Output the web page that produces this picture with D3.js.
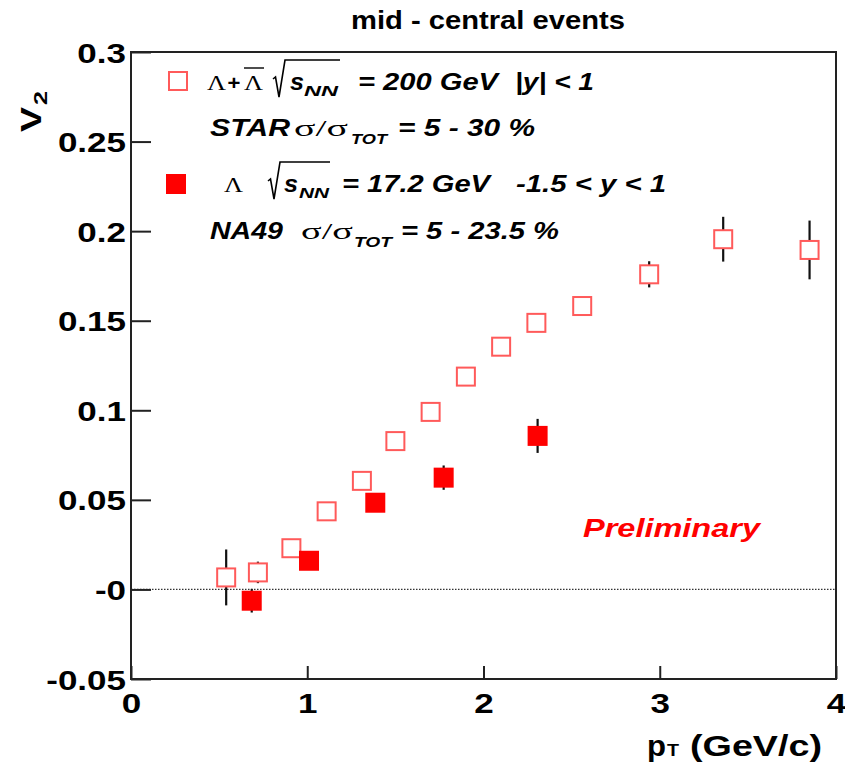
<!DOCTYPE html>
<html>
<head>
<meta charset="utf-8">
<script src="https://cdn.jsdelivr.net/npm/d3@7"></script>
<style>
  body { margin: 0; background: #fff; }
  svg { display: block; }
</style>
</head>
<body>
<script>
// Lambda elliptic flow v2 vs pT, mid-central events
const starPt  = [0.54, 0.72, 0.91, 1.11, 1.31, 1.50, 1.70, 1.90, 2.10, 2.30, 2.56, 2.94, 3.36, 3.85];
const starV2  = [0.0067, 0.0095, 0.0230, 0.0436, 0.0606, 0.0828, 0.0991, 0.1188, 0.1355, 0.1488, 0.1582, 0.1759, 0.1955, 0.1895];
const starErr = [0.0156, 0.0060, 0.0040, 0.0035, 0.0035, 0.0035, 0.0035, 0.0040, 0.0040, 0.0045, 0.0045, 0.0073, 0.0125, 0.0164];

const na49Pt  = [0.685, 1.01, 1.386, 1.774, 2.307];
const na49V2  = [-0.0063, 0.0160, 0.0484, 0.0624, 0.0857];
const na49Err = [0.0066, 0.0050, 0.0050, 0.0068, 0.0095];

const xTicks = [0, 1, 2, 3, 4];
const xTickLabels = ["0", "1", "2", "3", "4"];
const yTicks = [-0.05, 0, 0.05, 0.1, 0.15, 0.2, 0.25, 0.3];
const yTickLabels = ["-0.05", "-0", "0.05", "0.1", "0.15", "0.2", "0.25", "0.3"];

const W = 845, H = 764;
const plot = { left: 131, right: 836, top: 52, bottom: 679 };
const SANS = "'Liberation Sans', Arial, Helvetica, sans-serif";
const SERIF = "'Liberation Serif', 'Times New Roman', serif";
const SX = 1.25;      // horizontal widening of the ROOT-style lettering
const BOX = 20;       // marker size in px

const x = d3.scaleLinear().domain([0, 4]).range([plot.left, plot.right]);
const y = d3.scaleLinear().domain([-0.05, 0.3]).range([plot.bottom, plot.top]);

const svg = d3.select("body").append("svg")
  .attr("width", W).attr("height", H)
  .attr("viewBox", `0 0 ${W} ${H}`);

function widen(sel, sx) {
  sel.each(function () {
    const w = this.getComputedTextLength();
    this.setAttribute("textLength", w * sx);
    this.setAttribute("lengthAdjust", "spacingAndGlyphs");
  });
}

// Text piece with fixed start and width
function piece(g, o) {
  const t = g.append("text")
    .attr("x", o.x).attr("y", o.y)
    .attr("font-family", o.family || SANS)
    .attr("font-size", o.size)
    .attr("font-weight", o.weight || "bold")
    .attr("font-style", o.style || "italic")
    .attr("fill", o.fill || "#000")
    .text(o.text);
  if (o.w) t.attr("textLength", o.w).attr("lengthAdjust", "spacingAndGlyphs");
  return t;
}

// zero reference line
svg.append("line")
  .attr("x1", plot.left).attr("x2", plot.right)
  .attr("y1", y(0)).attr("y2", y(0))
  .attr("stroke", "#333").attr("stroke-width", 1.2)
  .attr("stroke-dasharray", "1.5,1.5");

// Axes (ticks point inward)
const yAxis = d3.axisLeft(y).tickValues(yTicks).tickSize(-20).tickPadding(5)
  .tickFormat((d, i) => yTickLabels[i]);
const gy = svg.append("g").attr("transform", `translate(${plot.left},0)`).call(yAxis);
gy.select(".domain").remove();
gy.selectAll(".tick line").attr("stroke", "#222").attr("stroke-width", 2);
gy.selectAll(".tick text")
  .attr("font-family", SANS).attr("font-size", 28).attr("font-weight", "bold")
  .attr("fill", "#000").attr("dy", "0.36em")
  .call(widen, SX);

const xAxis = d3.axisBottom(x).tickValues(xTicks).tickSize(-13).tickPadding(14)
  .tickFormat((d, i) => xTickLabels[i]);
const gx = svg.append("g").attr("transform", `translate(0,${plot.bottom})`).call(xAxis);
gx.select(".domain").remove();
gx.selectAll(".tick line").attr("stroke", "#222").attr("stroke-width", 2);
gx.selectAll(".tick text")
  .attr("font-family", SANS).attr("font-size", 28).attr("font-weight", "bold")
  .attr("fill", "#000")
  .call(widen, SX);

// frame
svg.append("rect")
  .attr("x", plot.left).attr("y", plot.top)
  .attr("width", plot.right - plot.left).attr("height", plot.bottom - plot.top)
  .attr("fill", "none").attr("stroke", "#222").attr("stroke-width", 2);

const star = starPt.map((p, i) => ({ p, v: starV2[i], e: starErr[i] }));
const na49 = na49Pt.map((p, i) => ({ p, v: na49V2[i], e: na49Err[i] }));

function errBars(data) {
  svg.append("g").selectAll("line").data(data).join("line")
    .attr("x1", d => x(d.p)).attr("x2", d => x(d.p))
    .attr("y1", d => y(d.v - d.e)).attr("y2", d => y(d.v + d.e))
    .attr("stroke", "#111").attr("stroke-width", 2.2);
}

// STAR: open squares
errBars(star);
svg.append("g").selectAll("rect").data(star).join("rect")
  .attr("x", d => x(d.p) - BOX / 2 + 1).attr("y", d => y(d.v) - BOX / 2 + 1)
  .attr("width", BOX - 2).attr("height", BOX - 2)
  .attr("fill", "#fff").attr("stroke", "#ff5a5a").attr("stroke-width", 2);

// NA49: filled squares
errBars(na49);
svg.append("g").selectAll("rect").data(na49).join("rect")
  .attr("x", d => x(d.p) - BOX / 2).attr("y", d => y(d.v) - BOX / 2)
  .attr("width", BOX).attr("height", BOX)
  .attr("fill", "#ff0000");

// Title
piece(svg, { x: 488, y: 29, text: "mid - central events", size: 26, style: "normal", w: 274 })
  .attr("text-anchor", "middle");

// Y-axis title V2
const vt = svg.append("g").attr("transform", "translate(41,132) rotate(-90)");
piece(vt, { x: 0, y: 0, text: "V", size: 30, style: "normal", w: 25 });
piece(vt, { x: 27, y: 6, text: "2", size: 18, style: "normal", w: 14 });

// X-axis title pT (GeV/c)
piece(svg, { x: 647, y: 756, text: "p", size: 29, style: "normal", w: 19 });
piece(svg, { x: 667, y: 756, text: "T", size: 17, style: "normal", w: 12 });
piece(svg, { x: 690, y: 756, text: "(GeV/c)", size: 29, style: "normal", w: 132 });

// Preliminary
piece(svg, { x: 583, y: 537, text: "Preliminary", size: 25, fill: "#ff0000", w: 177 });

// Legend
const lg = svg.append("g");
lg.append("rect").attr("x", 178 - BOX / 2 + 1).attr("y", 81 - BOX / 2 + 1)
  .attr("width", BOX - 2).attr("height", BOX - 2)
  .attr("fill", "#fff").attr("stroke", "#ff5a5a").attr("stroke-width", 2);
lg.append("rect").attr("x", 176 - BOX / 2).attr("y", 184 - BOX / 2)
  .attr("width", BOX).attr("height", BOX).attr("fill", "#ff0000");

function radical(g, x0, base, xEnd) {
  g.append("path")
    .attr("d", `M${x0},${base - 11} L${x0 + 2.5},${base - 13} L${x0 + 6},${base + 7} L${x0 + 12},${base - 30} H${xEnd}`)
    .attr("fill", "none").attr("stroke", "#000").attr("stroke-width", 1.6);
}

const FS = 23, SUB = 15;

// line 1
let b = 90;
piece(lg, { x: 207, y: b, text: "Λ", family: SERIF, size: 22, weight: "normal", style: "normal", w: 19 });
piece(lg, { x: 227, y: b, text: "+", size: 21, w: 13 });
piece(lg, { x: 244, y: b, text: "Λ", family: SERIF, size: 22, weight: "normal", style: "normal", w: 19 });
lg.append("line").attr("x1", 244).attr("x2", 264).attr("y1", b - 22).attr("y2", b - 22)
  .attr("stroke", "#000").attr("stroke-width", 1.4);
radical(lg, 273, b, 340);
piece(lg, { x: 290, y: b, text: "s", size: FS, w: 14 });
piece(lg, { x: 304, y: b + 6, text: "NN", size: SUB, w: 34 });
piece(lg, { x: 358, y: b, text: "= 200 GeV", size: FS, w: 140 });
piece(lg, { x: 515, y: b, text: "|y| < 1", size: FS, w: 79 });

// line 2
b = 136;
piece(lg, { x: 210, y: b, text: "STAR", size: FS, w: 80 });
piece(lg, { x: 294, y: b, text: "σ/σ", family: SERIF, size: 23, weight: "normal", style: "normal", w: 54 });
piece(lg, { x: 351, y: b + 8, text: "TOT", size: SUB, w: 36 });
piece(lg, { x: 398, y: b, text: "= 5 - 30 %", size: FS, w: 137 });

// line 3
b = 192;
piece(lg, { x: 224, y: b, text: "Λ", family: SERIF, size: 22, weight: "normal", style: "normal", w: 19 });
radical(lg, 268, b, 330);
piece(lg, { x: 284, y: b, text: "s", size: FS, w: 14 });
piece(lg, { x: 299, y: b + 6, text: "NN", size: SUB, w: 30 });
piece(lg, { x: 342, y: b, text: "= 17.2 GeV", size: FS, w: 148 });
piece(lg, { x: 516, y: b, text: "-1.5 < y < 1", size: FS, w: 150 });

// line 4
b = 239;
piece(lg, { x: 210, y: b, text: "NA49", size: FS, w: 73 });
piece(lg, { x: 301, y: b, text: "σ/σ", family: SERIF, size: 23, weight: "normal", style: "normal", w: 52 });
piece(lg, { x: 354, y: b + 8, text: "TOT", size: SUB, w: 38 });
piece(lg, { x: 401, y: b, text: "= 5 - 23.5 %", size: FS, w: 158 });
</script>
</body>
</html>
